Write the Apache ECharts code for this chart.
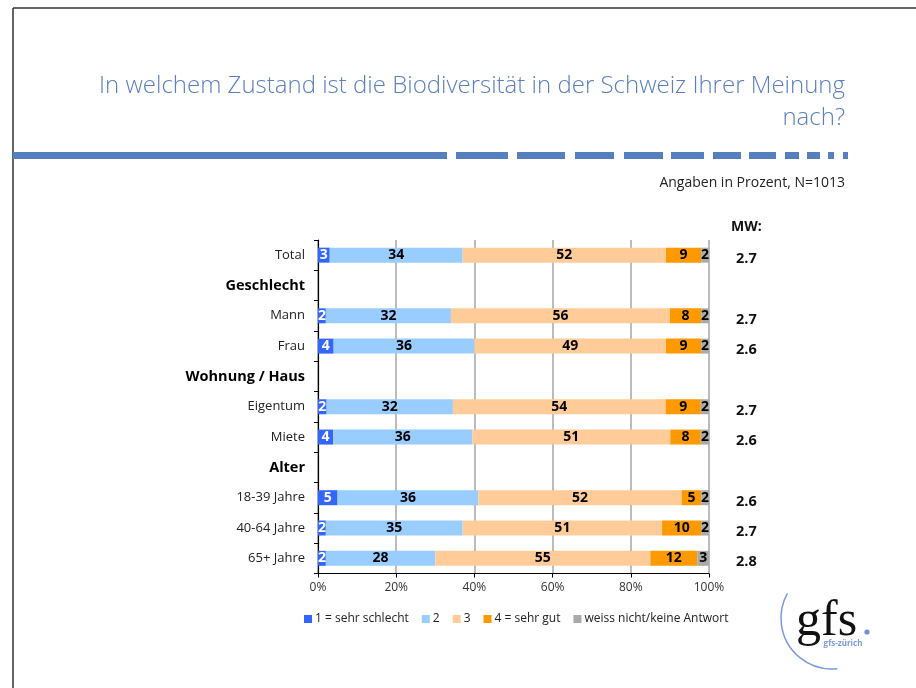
<!DOCTYPE html>
<html>
<head>
<meta charset="utf-8">
<script src="https://cdn.jsdelivr.net/npm/echarts@6/dist/echarts.min.js"></script>
<style>
html,body{margin:0;padding:0;background:#fff;}
#c{width:916px;height:688px;}
</style>
</head>
<body>
<div id="c"></div>
<script>
var categories = ['Total','Geschlecht','Mann','Frau','Wohnung / Haus','Eigentum','Miete','Alter','18-39 Jahre','40-64 Jahre','65+ Jahre'];
var headers = ['Geschlecht','Wohnung / Haus','Alter'];
var seriesNames = ['1 = sehr schlecht','2','3','4 = sehr gut','weiss nicht/keine Antwort'];
var sehrSchlecht = [3, null, 2, 4, null, 2.2, 3.9, null, 5, 2, 2];
var zwei        = [34, null, 32, 36, null, 32.3, 35.6, null, 36, 35, 28];
var drei        = [52, null, 56, 49, null, 54.4, 50.6, null, 52, 51, 55];
var sehrGut     = [9, null, 8, 9, null, 9.0, 7.8, null, 5, 10, 12];
var weissNicht  = [2, null, 2, 2, null, 2.1, 2.1, null, 2, 2, 3];
var mw = ['2.7','','2.7','2.6','','2.7','2.6','','2.6','2.7','2.8'];

var colors = ['#3366FF','#99CCFF','#FFCC99','#FF9900','#AAAAAA'];
var FONT = 'Open Sans';
var chart = echarts.init(document.getElementById('c'));

function mkSeries(name, data, idx){
  return {
    name: name, type: 'bar', stack: 'all', data: data, barWidth: 15,
    itemStyle: {color: colors[idx]},
    label: {
      show: true, position: 'inside',
      color: idx === 0 ? '#ffffff' : '#000000',
      fontWeight: 'bold', fontSize: 14, fontFamily: FONT,
      formatter: function(p){ return p.value == null ? '' : Math.round(p.value); }
    },
    emphasis: {disabled: true},
    animation: false
  };
}

// header dashed line segments (decoration)
var dashSegs = [[13,447],[456,508],[517,565],[575,614],[624,663],[671,704],[713,741],[749,776],[785,799],[807,820],[828,834],[843,848]];
var graphics = [
  {type:'line', shape:{x1:13,y1:8,x2:916,y2:8}, style:{stroke:'#333',lineWidth:1.5}},
  {type:'line', shape:{x1:13,y1:8,x2:13,y2:688}, style:{stroke:'#333',lineWidth:1.5}},
  {type:'text', style:{text:'In welchem Zustand ist die Biodiversität in der Schweiz Ihrer Meinung\nnach?', x:845, y:102, align:'right', verticalAlign:'middle', fontSize:24, lineHeight:32, fontFamily:FONT, fontWeight:300, fill:'#5B7FC0'}},
  {type:'text', style:{text:'Angaben in Prozent, N=1013', x:845, y:183, align:'right', verticalAlign:'middle', fontSize:14, fontFamily:FONT, fill:'#222'}},
  {type:'text', style:{text:'MW:', x:731, y:227, align:'left', verticalAlign:'middle', fontSize:14, fontWeight:'bold', fontFamily:FONT, fill:'#111'}},
  // logo
  {type:'arc', shape:{cx:832, cy:618, r:51, startAngle:84*Math.PI/180, endAngle:209*Math.PI/180, clockwise:true}, style:{stroke:'#7A9BDB', lineWidth:1.5, fill:null}},
  {type:'text', style:{text:'gfs', x:796, y:622, align:'left', verticalAlign:'middle', fontSize:50, fontFamily:'Liberation Serif', fill:'#111'}},
  {type:'circle', shape:{cx:867, cy:632, r:2.6}, style:{fill:'#6F8FD6'}},
  {type:'text', style:{text:'gfs-zürich', x:843, y:644, align:'center', verticalAlign:'middle', fontSize:8, fontWeight:'bold', fontFamily:FONT, fill:'#7A9BDB'}}
];
dashSegs.forEach(function(s){
  graphics.push({type:'rect', shape:{x:s[0], y:152, width:s[1]-s[0], height:7}, style:{fill:'#5580BD'}});
});

var option = {
  backgroundColor: '#fff',
  animation: false,
  grid: {left: 318, right: 207, top: 240, bottom: 114.5, containLabel: false},
  legend: {
    data: seriesNames, left: 299, top: 608, itemWidth: 8, itemHeight: 8, itemGap: 13,
    icon: 'rect', textStyle: {fontSize: 12, fontFamily: FONT, color: '#222', padding:[0,0,0,-2]},
    selectedMode: false
  },
  xAxis: {
    type: 'value', min: 0, max: 100, interval: 20,
    axisLine: {show: true, lineStyle: {color: '#000', width: 1.2}},
    axisTick: {show: true, length: 4, lineStyle: {color: '#000'}},
    axisLabel: {formatter: '{value}%', fontSize: 12, fontFamily: FONT, color: '#333', margin: 8},
    splitLine: {show: true, lineStyle: {color: '#A6A6A6', width: 1.5}}
  },
  yAxis: [{
    type: 'category', data: categories, inverse: true,
    axisLine: {show: true, lineStyle: {color: '#000', width: 1.2}},
    axisTick: {show: true, length: 4, lineStyle: {color: '#000'}},
    axisLabel: {
      margin: 13, fontSize: 13, fontFamily: FONT, color: '#222',
      formatter: function(v){ return headers.indexOf(v) >= 0 ? '{h|' + v + '}' : v; },
      rich: {h: {fontWeight: 'bold', fontSize: 14.5, fontFamily: FONT, color: '#000'}}
    }
  },{
    type: 'category', data: categories, inverse: true, position: 'right',
    axisLine: {show: false}, axisTick: {show: false}, splitLine: {show: false},
    axisLabel: {
      margin: 27, align: 'left',
      formatter: function(v, i){ return mw[i] ? '{m|' + mw[i] + '}' : ''; },
      rich: {m: {fontSize: 14.5, fontWeight: 'bold', fontFamily: FONT, color: '#111', padding: [8,0,0,0]}}
    }
  }],
  series: [
    mkSeries(seriesNames[0], sehrSchlecht, 0),
    mkSeries(seriesNames[1], zwei, 1),
    mkSeries(seriesNames[2], drei, 2),
    mkSeries(seriesNames[3], sehrGut, 3),
    mkSeries(seriesNames[4], weissNicht, 4)
  ],
  graphic: graphics
};
chart.setOption(option);
</script>
</body>
</html>
